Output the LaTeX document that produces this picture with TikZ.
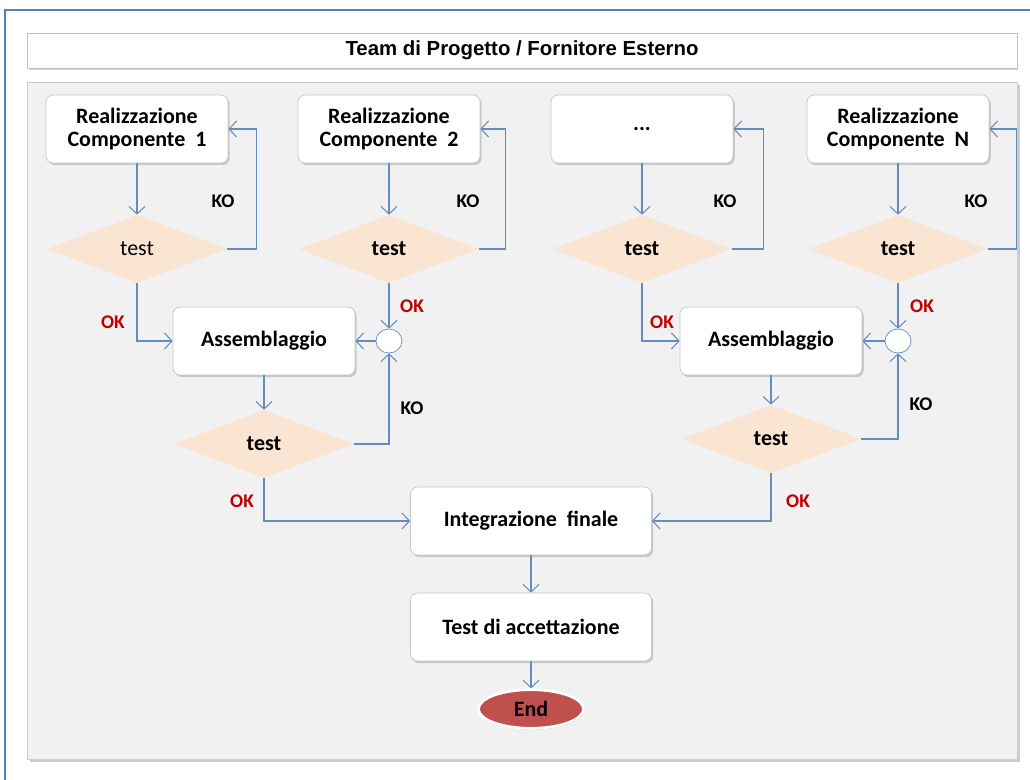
\documentclass[tikz,border=0pt]{standalone}
\usepackage{fontspec}
\setmainfont{Carlito}
\newfontfamily\titlefont{Liberation Sans}
\usetikzlibrary{arrows.meta,positioning,shapes.geometric,shadows}
\definecolor{frameblue}{RGB}{79,129,189}
\definecolor{lineblue}{RGB}{100,140,190}
\definecolor{okred}{RGB}{192,0,0}
\definecolor{testfill}{RGB}{250,228,210}
\definecolor{panelgray}{RGB}{241,241,241}
\definecolor{endred}{RGB}{192,80,77}
\tikzset{
  box/.style={
    rectangle,
    rounded corners=4pt,
    draw=black!22,
    fill=white,
    align=center,
    minimum width=3.64cm,
    minimum height=1.36cm,
    font=\fontsize{12.5}{13.5}\selectfont\bfseries,
    drop shadow={shadow xshift=1pt, shadow yshift=-1.2pt, opacity=0.35}
  },
  test/.style={
    diamond,
    fill=testfill,
    inner sep=0pt,
    minimum width=3.6cm,
    minimum height=1.36cm,
    font=\fontsize{12.5}{15}\selectfont\bfseries
  },
  junction/.style={
    ellipse,
    draw=lineblue,
    fill=white,
    inner sep=0pt,
    minimum width=0.52cm,
    minimum height=0.48cm
  },
  endbox/.style={
    ellipse,
    draw=white,
    line width=1.5pt,
    fill=endred,
    minimum width=2.1cm,
    minimum height=0.7cm,
    font=\fontsize{12.5}{15}\selectfont\bfseries,
    drop shadow={shadow xshift=0.5pt, shadow yshift=-0.8pt, opacity=0.35}
  },
  ok/.style={text=okred, font=\fontsize{11}{13}\selectfont\bfseries},
  ko/.style={text=black, font=\fontsize{11}{13}\selectfont\bfseries},
  arrow/.style={-{Straight Barb[length=1.5mm, width=3.2mm]}, draw=lineblue, line width=0.6pt}
}

\begin{document}
\begin{tikzpicture}[x=0.02cm, y=-0.02cm]
    \useasboundingbox (0,0) rectangle (1030,780);
    \draw[frameblue, line width=1.2pt] (5,800) -- (5,10) -- (1040,10);

    % header and panel
    \node[rectangle, draw=black!25, fill=white, minimum width=19.8cm, minimum height=0.7cm,
          drop shadow={shadow xshift=0.8pt, shadow yshift=-1pt, opacity=0.35},
          font=\titlefont\fontsize{11.6}{13}\selectfont\bfseries] (title) at (522,50.5) {Team di Progetto / Fornitore Esterno};
    \node[rectangle, draw=black!20, fill=panelgray, minimum width=19.8cm, minimum height=13.54cm,
          drop shadow={shadow xshift=1.5pt, shadow yshift=-1.5pt, opacity=0.4}] (panel) at (522,420.5) {};

    % components
    \node[box] (comp1) at (137,129) {Realizzazione\\Componente~ 1};
    \node[box] (comp2) at (389,129) {Realizzazione\\Componente~ 2};
    \node[box] (comp3) at (642,129) {...};
    \node[box] (compN) at (898,129) {Realizzazione\\Componente~ N};

    \node[test, font=\fontsize{12.5}{15}\selectfont\mdseries] (test1) at (137,249) {test};
    \node[test] (test2) at (389,249) {test};
    \node[test] (test3) at (642,249) {test};
    \node[test] (testN) at (898,249) {test};

    % assembly
    \node[box] (asmA) at (264,341) {Assemblaggio};
    \node[box] (asmB) at (771,341) {Assemblaggio};
    \node[junction] (joinA) at (389,341) {};
    \node[junction] (joinB) at (898,341) {};
    \node[test] (testA) at (264,444) {test};
    \node[test] (testB) at (771,439) {test};

    % final steps
    \node[box, minimum width=4.82cm] (integ) at (531,521) {Integrazione~ finale};
    \node[box, minimum width=4.82cm] (accept) at (531,627) {Test di accettazione};
    \node[endbox] (fine) at (531,709) {End};

    % labels
    \node[ko] (ko1) at (223,201) {KO};
    \node[ko] (ko2) at (468,201) {KO};
    \node[ko] (ko3) at (725,201) {KO};
    \node[ko] (koN) at (976,201) {KO};
    \node[ko] (koA) at (412,408) {KO};
    \node[ko] (koB) at (921,404) {KO};
    \node[ok] (ok1) at (113,322) {OK};
    \node[ok] (ok2) at (412,306) {OK};
    \node[ok] (ok3) at (662,322) {OK};
    \node[ok] (okN) at (922,306) {OK};
    \node[ok] (okA) at (242,501) {OK};
    \node[ok] (okB) at (798,501) {OK};

    % connectors
    \draw[arrow] (comp1) -- (test1);
    \draw[arrow] (comp2) -- (test2);
    \draw[arrow] (comp3) -- (test3);
    \draw[arrow] (compN) -- (testN);
    \draw[arrow] (test1.east) -- ++(29,0) |- (comp1.east);
    \draw[arrow] (test2.east) -- ++(26,0) |- (comp2.east);
    \draw[arrow] (test3.east) -- ++(31,0) |- (comp3.east);
    \draw[arrow] (testN.east) -- ++(28,0) |- (compN.east);

    \draw[arrow] (test1.south) |- (asmA.west);
    \draw[arrow] (test2.south) -- (joinA.north);
    \draw[arrow] (joinA) -- (asmA);
    \draw[arrow] (asmA) -- (testA);
    \draw[arrow] (testA.east) -| (joinA.south);

    \draw[arrow] (test3.south) |- (asmB.west);
    \draw[arrow] (testN.south) -- (joinB.north);
    \draw[arrow] (joinB) -- (asmB);
    \draw[arrow] (asmB) -- (testB);
    \draw[arrow] (testB.east) -| (joinB.south);

    \draw[arrow] (testA.south) |- (integ.west);
    \draw[arrow] (testB.south) |- (integ.east);
    \draw[arrow] (integ) -- (accept);
    \draw[arrow] (accept) -- (fine);
  \end{tikzpicture}
\end{document}
